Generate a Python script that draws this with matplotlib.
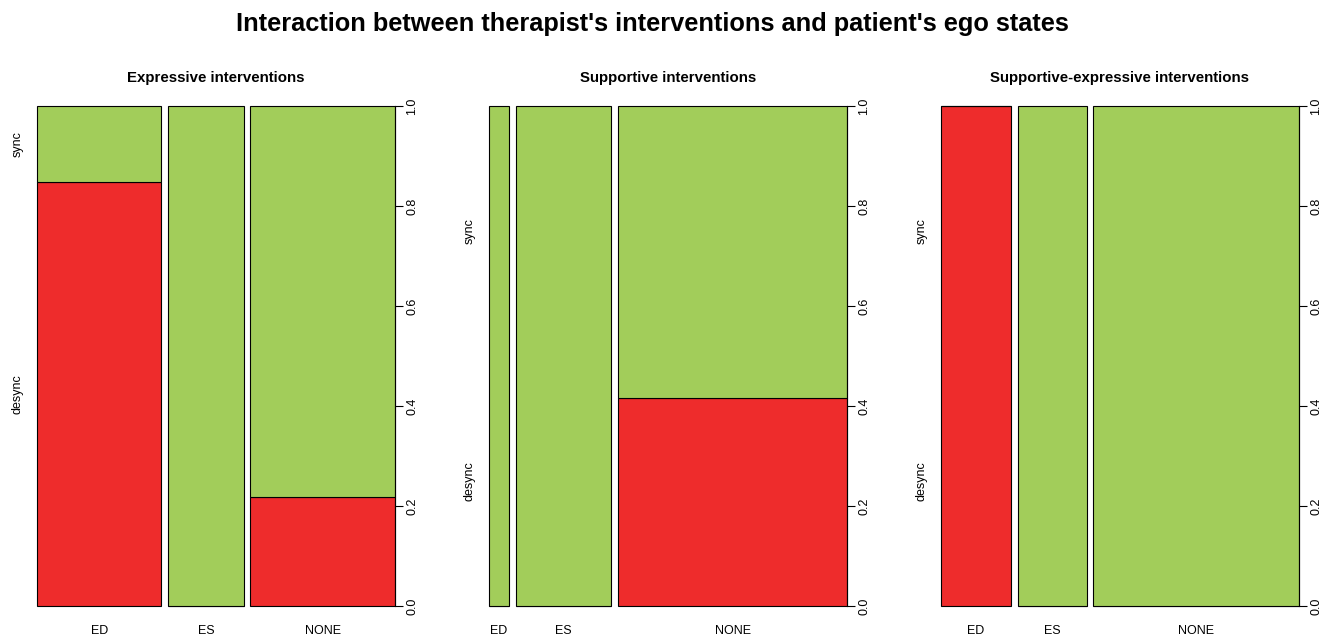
import matplotlib.pyplot as plt
import numpy as np

plt.rcParams['font.family'] = ['Liberation Sans', 'DejaVu Sans']

# data
categories = ["ED", "ES", "NONE"]
panel_titles = ["Expressive interventions",
                "Supportive interventions",
                "Supportive-expressive interventions"]
# share of each category (bar widths)
widths_expr = [0.3615, 0.2187, 0.4198]
widths_supp = [0.058, 0.277, 0.665]
widths_supexp = [0.203, 0.200, 0.597]
# proportion of "desync" in each category
desync_expr = [0.848, 0.0, 0.218]
desync_supp = [0.0, 0.0, 0.416]
desync_supexp = [1.0, 0.0, 0.0]
# where R put the sync/desync labels on the left
ylab_pos = [(0.424, 0.924), (0.25, 0.75), (0.25, 0.75)]
ylevels = ["desync", "sync"]

red = "#EE2C2C"
green = "#A2CD5A"
gap = 0.02

fig = plt.figure(figsize=(13.4, 6.39), dpi=100)
fig.suptitle("Interaction between therapist's interventions and patient's ego states",
             fontsize=18.3, fontweight='bold', x=0.487, y=0.982)

lefts = [37, 489, 941]
panels = [(widths_expr, desync_expr), (widths_supp, desync_supp), (widths_supexp, desync_supexp)]

for i, (w, d) in enumerate(panels):
    ax = fig.add_axes([lefts[i] / 1340, 33 / 639, 358 / 1340, 500 / 639])
    w = np.array(w) / np.sum(w)
    d = np.array(d)
    x0 = np.concatenate([[0], np.cumsum(w)[:-1]]) + gap * np.arange(len(w))
    ax.bar(x0, d, width=w, align='edge', color=red, edgecolor='black',
           linewidth=0.8, clip_on=False)
    ax.bar(x0, 1 - d, bottom=d, width=w, align='edge', color=green,
           edgecolor='black', linewidth=0.8, clip_on=False)
    ax.set_xlim(0, 1 + gap * (len(w) - 1))
    ax.set_ylim(0, 1)
    ax.set_title(panel_titles[i], fontsize=10.8, fontweight='bold', pad=17)

    for s in ['top', 'left', 'bottom']:
        ax.spines[s].set_visible(False)
    ax.spines['right'].set_bounds(0, 1)
    ax.spines['right'].set_linewidth(0.8)
    ax.yaxis.tick_right()
    ax.set_yticks(np.linspace(0, 1, 6))
    ax.set_yticklabels([f"{v:.1f}" for v in np.linspace(0, 1, 6)])
    ax.tick_params(axis='y', labelrotation=90, labelsize=9, length=6, pad=2, width=0.8)
    for lab in ax.get_yticklabels():
        lab.set_va('center')

    ax.set_xticks(x0 + w / 2)
    ax.set_xticklabels(categories)
    ax.tick_params(axis='x', length=0, labelsize=9, pad=14)

    for pos, lab in zip(ylab_pos[i], ylevels):
        ax.text(-0.055, pos, lab, rotation=90, ha='center', va='center',
                fontsize=9, transform=ax.transAxes)

fig.savefig("out.png", dpi=100)
